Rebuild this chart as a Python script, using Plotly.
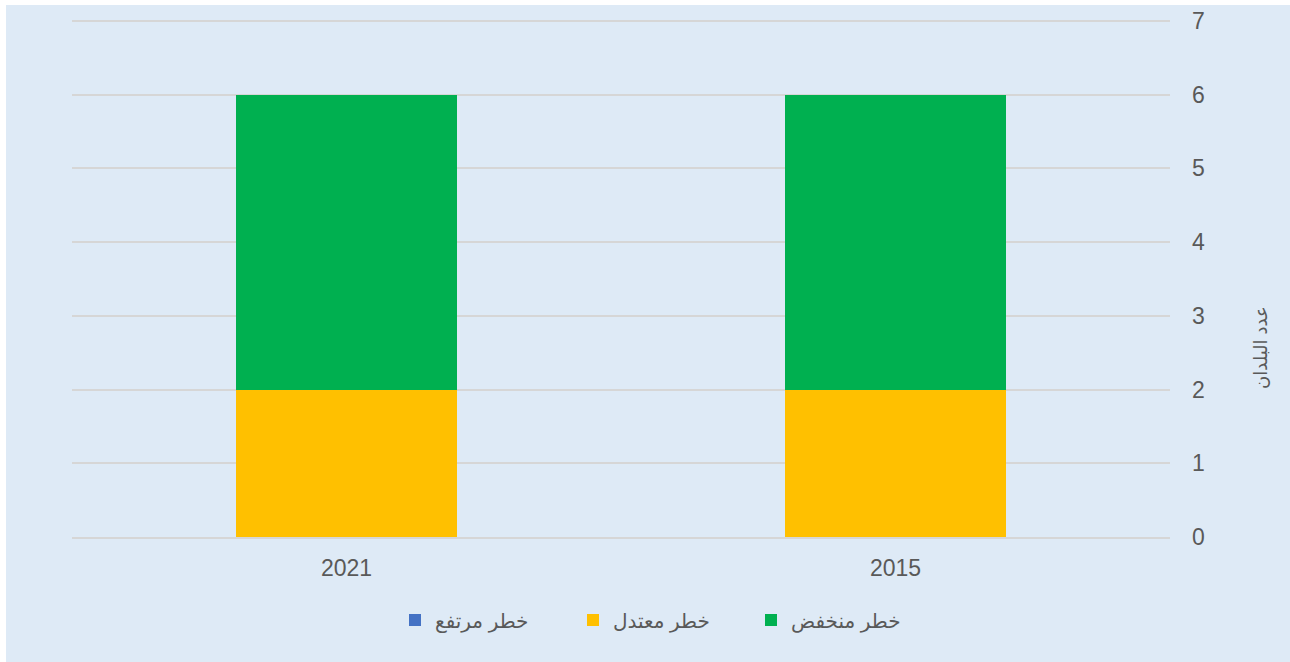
import plotly.graph_objects as go

years = ["2021", "2015"]
high_risk = [0, 0]
moderate_risk = [2, 2]
low_risk = [4, 4]

series_names = ["خطر مرتفع", "خطر معتدل", "خطر منخفض"]
series_colors = ["#4472C4", "#FFC000", "#00B050"]
y_ticks = [0, 1, 2, 3, 4, 5, 6, 7]
y_title = "عدد البلدان"

BG = "#DEEAF6"
TXT = "#595959"
GRID = "#D6D6D6"
FONT = "Arial, Liberation Sans, DejaVu Sans, sans-serif"

fig = go.Figure()
for name, vals, col in zip(series_names, [high_risk, moderate_risk, low_risk], series_colors):
    fig.add_trace(go.Bar(x=years, y=vals, name=name, marker=dict(color=col, line=dict(width=0))))

W, H = 1290, 662
L, T = 72, 18
PR, PB = 1170, 537
R, B = W - PR, H - PB
pw, ph = PR - L, PB - T
YTOP = 7.04

def px_x(p):  # page pixel -> paper x
    return (p - L) / pw

def px_y(p):  # page pixel -> paper y
    return (PB - p) / ph

fig.add_shape(type="rect", xref="paper", yref="paper", layer="below",
              x0=px_x(6), x1=px_x(W + 5), y0=px_y(H + 5), y1=px_y(5),
              fillcolor=BG, line=dict(width=0))

fig.add_annotation(text=y_title, textangle=-90, showarrow=False,
                   xref="paper", yref="paper", x=px_x(1261), y=px_y(348),
                   xanchor="center", yanchor="middle",
                   font=dict(size=18, color=TXT, family=FONT))

fig.update_layout(
    width=W, height=H,
    margin=dict(l=L, r=R, t=T, b=B, autoexpand=False),
    paper_bgcolor="white", plot_bgcolor="rgba(0,0,0,0)",
    barmode="stack", bargap=0.596,
    font=dict(family=FONT, color=TXT, size=23),
    showlegend=True,
    legend=dict(orientation="h", x=px_x(662), xanchor="center", y=px_y(620), yanchor="middle",
                font=dict(size=20, color=TXT, family=FONT), traceorder="normal",
                bgcolor="rgba(0,0,0,0)", entrywidth=133, entrywidthmode="pixels"),
    xaxis=dict(categoryorder="array", categoryarray=years, showgrid=False, automargin=False,
               showline=True, linecolor=GRID, linewidth=2, ticks="",
               tickfont=dict(size=23, color=TXT), ticklabelstandoff=9, zeroline=False),
    yaxis=dict(side="right", range=[0, YTOP], tickvals=y_ticks, showgrid=True, automargin=False,
               gridcolor=GRID, gridwidth=2, zeroline=False, showline=False,
               ticks="", tickfont=dict(size=23, color=TXT), ticklabelstandoff=21),
)

fig.write_html("out.html", config={"displayModeBar": False},
               post_script="document.body.style.margin='0';document.body.style.overflow='hidden';")
